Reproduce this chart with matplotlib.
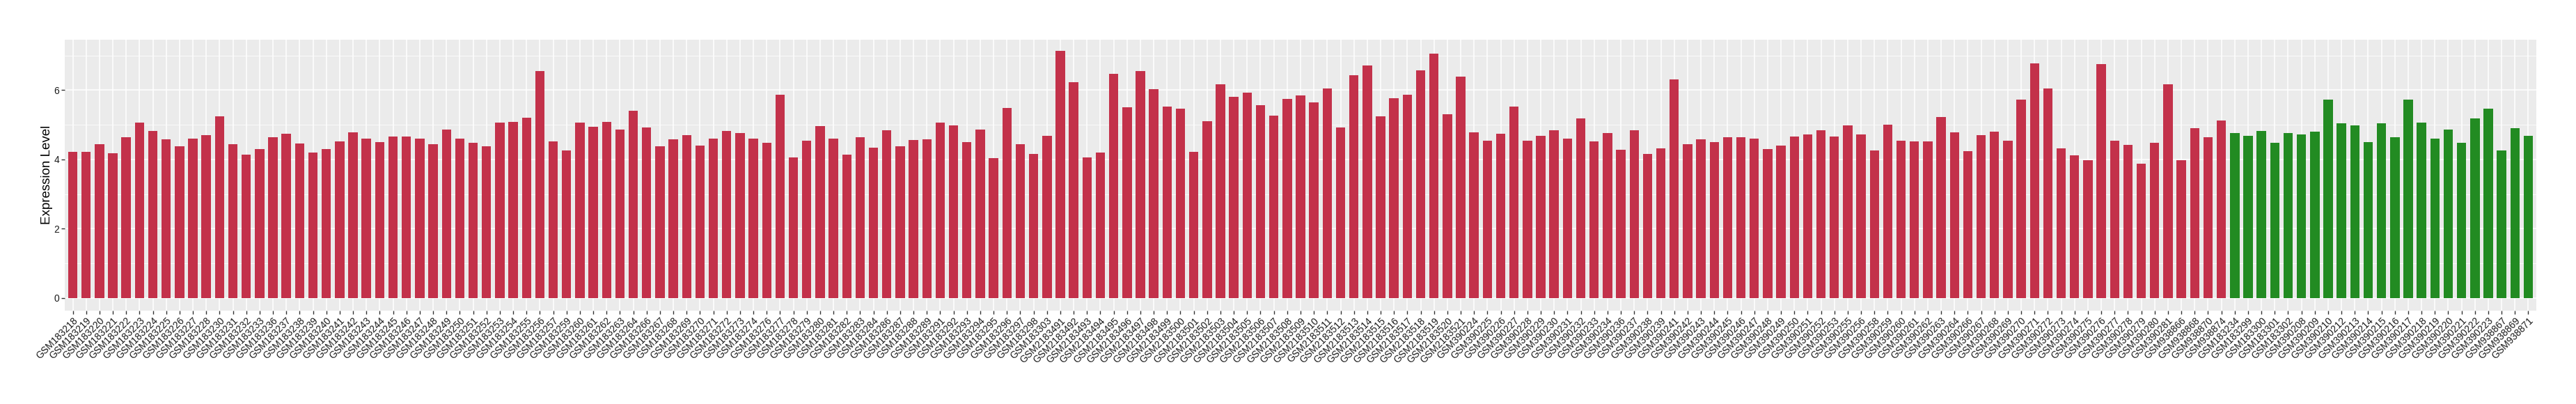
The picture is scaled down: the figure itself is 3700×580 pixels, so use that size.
import matplotlib
matplotlib.use("Agg")
import matplotlib.pyplot as plt
import numpy as np

plt.rcParams['font.family'] = ['Liberation Sans', 'DejaVu Sans']

# ---- data ----
tumor_samples = (
    ["GSM1832%02d" % n for n in [18, 19, 20, 21, 22, 23, 24, 25, 26, 27, 28, 30, 31, 32, 33,
                                  36, 37, 38, 39, 40, 41, 42, 43, 44, 45, 46, 47, 48, 49, 50,
                                  51, 52, 53, 54, 55, 56, 57, 59, 60, 61, 62, 63, 64, 66, 67,
                                  68, 69, 70, 71, 72, 73, 74, 76, 77, 78, 79, 80, 81, 82, 83,
                                  84, 86, 87, 88, 89, 91, 92, 93, 94, 95, 96, 97, 98]]
    + ["GSM183303"]
    + ["GSM2183%d" % n for n in range(491, 522)]
    + ["GSM390%d" % n for n in [224, 225, 226, 227, 228, 229, 230, 231, 232, 233, 234, 236, 237,
                                238, 239, 241, 242, 243, 244, 245, 246, 247, 248, 249, 250, 251,
                                252, 253, 255, 256, 258, 259, 260, 261, 262, 263, 264, 266, 267,
                                268, 269, 270, 271, 272, 273, 274, 275, 276, 277, 278, 279, 280, 281]]
    + ["GSM938866", "GSM938868", "GSM938870", "GSM938874"]
)
normal_samples = (
    ["GSM183234", "GSM183299", "GSM183300", "GSM183301", "GSM183302"]
    + ["GSM390%d" % n for n in [208, 209, 210, 212, 213, 214, 215, 216, 217, 218, 219, 220,
                                221, 222, 223]]
    + ["GSM938867", "GSM938869", "GSM938871"]
)

tumor_values = [
    4.21, 4.21, 4.45, 4.17, 4.64, 5.06, 4.82, 4.59, 4.37, 4.61,
    4.70, 5.24, 4.45, 4.13, 4.29, 4.64, 4.74, 4.47, 4.19, 4.29,
    4.53, 4.78, 4.61, 4.51, 4.66, 4.66, 4.61, 4.45, 4.86, 4.61,
    4.49, 4.39, 5.06, 5.08, 5.20, 6.56, 4.53, 4.25, 5.06, 4.94,
    5.08, 4.86, 5.41, 4.92, 4.37, 4.59, 4.70, 4.41, 4.61, 4.82,
    4.76, 4.61, 4.49, 5.87, 4.05, 4.55, 4.96, 4.61, 4.13, 4.64,
    4.33, 4.84, 4.39, 4.57, 4.59, 5.06, 4.98, 4.51, 4.86, 4.04,
    5.49, 4.45, 4.15, 4.68, 7.13, 6.22, 4.06, 4.19, 6.48, 5.51,
    6.56, 6.03, 5.53, 5.47, 4.21, 5.10, 6.16, 5.81, 5.93, 5.57,
    5.26, 5.75, 5.85, 5.65, 6.05, 4.92, 6.42, 6.72, 5.24, 5.77,
    5.87, 6.58, 7.05, 5.30, 6.38, 4.78, 4.55, 4.74, 5.53, 4.55,
    4.68, 4.84, 4.61, 5.18, 4.53, 4.76, 4.27, 4.84, 4.15, 4.31,
    6.30, 4.45, 4.59, 4.51, 4.64, 4.64, 4.61, 4.29, 4.41, 4.66,
    4.72, 4.84, 4.66, 4.98, 4.72, 4.25, 5.00, 4.55, 4.53, 4.53,
    5.22, 4.78, 4.23, 4.70, 4.80, 4.55, 5.73, 6.78, 6.05, 4.31,
    4.11, 3.98, 6.76, 4.55, 4.43, 3.88, 4.49, 6.16, 3.97, 4.90,
    4.64, 5.12,
]
normal_values = [
    4.76, 4.68, 4.82, 4.49, 4.76, 4.72, 4.80, 5.73, 5.04, 4.98,
    4.51, 5.04, 4.64, 5.73, 5.06, 4.61, 4.86, 4.49, 5.18, 5.47,
    4.25, 4.90, 4.68,
]

tumor_color = "#C3314A"
normal_color = "#228B22"

labels = tumor_samples + normal_samples
values = tumor_values + normal_values
colors = [tumor_color] * len(tumor_values) + [normal_color] * len(normal_values)

# ---- figure ----
W, H, DPI = 3700, 580, 100
fig = plt.figure(figsize=(W / DPI, H / DPI), dpi=DPI)
p_left, p_right, p_top, p_bottom = 93, 3643, 57, 445.6
ax = fig.add_axes([p_left / W, 1 - p_bottom / H, (p_right - p_left) / W, (p_bottom - p_top) / H])

x = np.arange(len(values))
ax.set_facecolor("#EBEBEB")
ax.bar(x, values, width=0.7, color=colors, zorder=3)

n = len(values)
ax.set_xlim(-0.6, n - 1 + 0.6)
ymax = 7.1
ax.set_ylim(-0.05 * ymax, ymax * 1.05)

ax.set_yticks([0, 2, 4, 6])
ax.set_yticks([1, 3, 5, 7], minor=True)
ax.set_xticks(x)
ax.set_xticklabels(labels, rotation=45, ha="right", va="top",
                   rotation_mode="anchor", fontsize=10, color="#1A1A1A")
ax.tick_params(axis="y", labelsize=10, color="#333333", length=3.5, width=1, pad=2)
ax.tick_params(axis="y", which="minor", length=0)
ax.tick_params(axis="x", color="#333333", length=3.5, width=1, pad=2)
for lab in ax.get_yticklabels():
    lab.set_color("#1A1A1A")

ax.grid(which="major", axis="both", color="white", linewidth=1.1, zorder=0)
ax.grid(which="minor", axis="y", color="white", linewidth=0.55, zorder=0)
ax.set_axisbelow(True)
for s in ax.spines.values():
    s.set_visible(False)

fig.text(68 / W, 1 - (p_top + p_bottom) / 2 / H, "Expression Level", rotation=90,
         ha="center", va="center", fontsize=13.5, color="black")

fig.savefig("out.png", dpi=DPI, facecolor="white")
